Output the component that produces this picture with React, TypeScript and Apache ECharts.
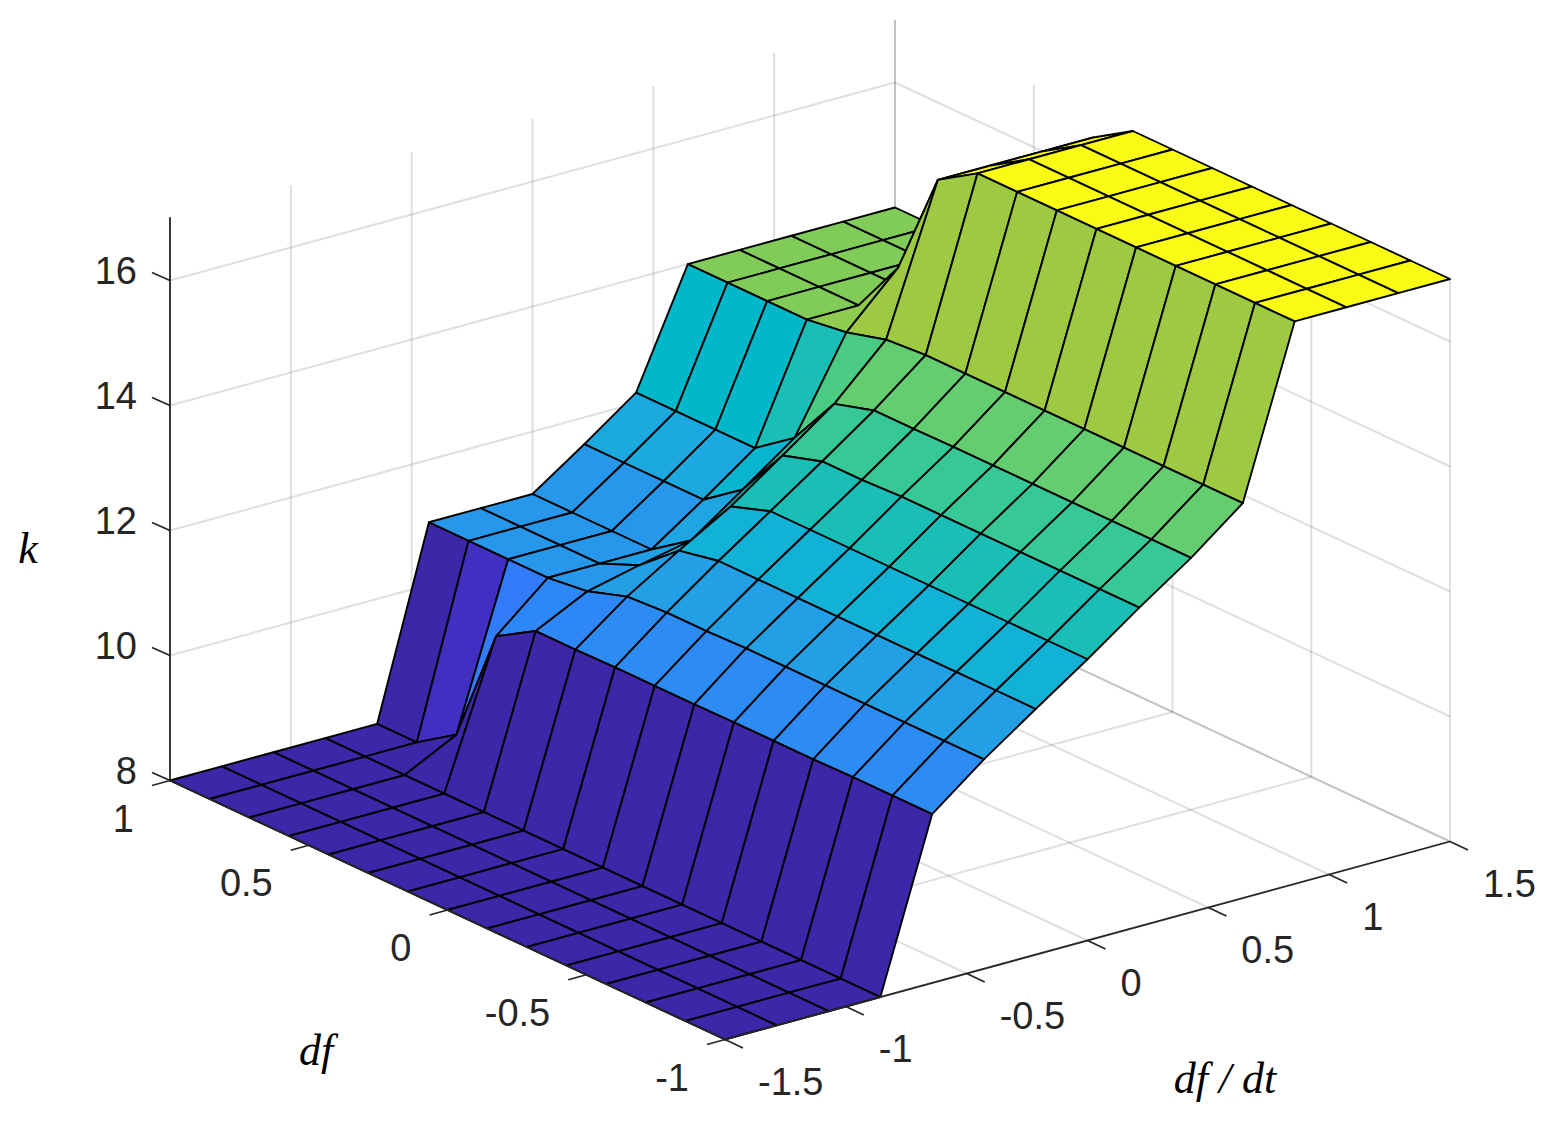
import React, { useEffect, useRef } from "react";
import * as echarts from "echarts";

// Mesh coordinates
const dfdtValues = [-1.5, -1.2857, -1.0714, -0.8571, -0.6429, -0.4286, -0.2143, 0, 0.2143, 0.4286, 0.6429, 0.8571, 1.0714, 1.2857, 1.5];
const dfValues = [1, 0.8571, 0.7143, 0.5714, 0.4286, 0.2857, 0.1429, 0, -0.1429, -0.2857, -0.4286, -0.5714, -0.7143, -0.8571, -1];

// k per df/dt column, each listed from df = 1 to df = -1
const k00 = [8, 8, 8, 8, 8, 8, 8, 8, 8, 8, 8, 8, 8, 8, 8];
const k01 = [8, 8, 8, 8, 8, 8, 8, 8, 8, 8, 8, 8, 8, 8, 8];
const k02 = [8, 8, 8, 8, 8, 8, 8, 8, 8, 8, 8, 8, 8, 8, 8];
const k03 = [8, 8, 8, 8, 8, 8, 8, 8, 8, 8, 8, 8, 8, 8, 8];
const k04 = [8, 8, 8.42, 10.29, 10.67, 10.67, 10.68, 10.68, 10.68, 10.69, 10.69, 10.69, 10.7, 10.7, 10.7];
const k05 = [11, 11, 11, 11, 11.08, 11.29, 11.33, 11.33, 11.35, 11.35, 11.35, 11.35, 11.35, 11.35, 11.35];
const k06 = [11, 11, 11, 11, 11.27, 11.8, 11.93, 11.93, 11.93, 11.93, 11.93, 11.93, 11.93, 11.93, 11.93];
const k07 = [11, 11, 11, 11, 11.44, 12.28, 12.5, 12.5, 12.5, 12.5, 12.5, 12.5, 12.5, 12.5, 12.5];
const k08 = [11.57, 11.57, 11.57, 11.57, 12.03, 12.87, 13.07, 13.07, 13.1, 13.1, 13.1, 13.1, 13.1, 13.1, 13.1];
const k09 = [12.17, 12.17, 12.17, 12.17, 12.63, 13.47, 13.66, 13.66, 13.67, 13.67, 13.67, 13.67, 13.67, 13.67, 13.67];
const k10 = [14, 14, 14, 14, 14.09, 14.27, 14.32, 14.32, 14.32, 14.32, 14.32, 14.32, 14.32, 14.32, 14.32];
const k11 = [14, 14, 14, 14, 14.9, 16.6, 17, 17, 17, 17, 17, 17, 17, 17, 17];
const k12 = [14, 14, 14, 14, 14.9, 16.6, 17, 17, 17, 17, 17, 17, 17, 17, 17];
const k13 = [14, 14, 14, 14, 14.9, 16.6, 17, 17, 17, 17, 17, 17, 17, 17, 17];
const k14 = [14, 14, 14, 14, 14.9, 16.6, 17, 17, 17, 17, 17, 17, 17, 17, 17];
const kValues = [k00, k01, k02, k03, k04, k05, k06, k07, k08, k09, k10, k11, k12, k13, k14];

// Tick labels
const kTicks = [8, 10, 12, 14, 16];
const dfTicks = [1, 0.5, 0, -0.5, -1];
const dfdtTicks = [-1.5, -1, -0.5, 0, 0.5, 1, 1.5];
const kMin = 8;
const kMax = 17;

// parula(64)
const parula = [
  [0.2422, 0.1504, 0.6603], [0.2504, 0.165, 0.7076], [0.2578, 0.1818, 0.7511], [0.2647, 0.1978, 0.7952],
  [0.2706, 0.2147, 0.8364], [0.2751, 0.2342, 0.871], [0.2783, 0.2559, 0.8991], [0.2803, 0.2782, 0.9221],
  [0.2813, 0.3006, 0.9414], [0.281, 0.3228, 0.9579], [0.2795, 0.3447, 0.9717], [0.276, 0.3667, 0.9829],
  [0.2699, 0.3892, 0.9906], [0.2602, 0.4123, 0.9952], [0.244, 0.4358, 0.9988], [0.2206, 0.4603, 0.9973],
  [0.1963, 0.4847, 0.9892], [0.1834, 0.5074, 0.9798], [0.1786, 0.5289, 0.9682], [0.1764, 0.5499, 0.952],
  [0.1687, 0.5703, 0.9359], [0.154, 0.5902, 0.9218], [0.146, 0.6091, 0.9079], [0.138, 0.6276, 0.8973],
  [0.1248, 0.6459, 0.8883], [0.1113, 0.6635, 0.8763], [0.0952, 0.6798, 0.8598], [0.0689, 0.6948, 0.8394],
  [0.0297, 0.7082, 0.8163], [0.0036, 0.7203, 0.7917], [0.0067, 0.7312, 0.766], [0.0433, 0.7411, 0.7394],
  [0.0964, 0.75, 0.712], [0.1408, 0.7584, 0.6842], [0.1717, 0.767, 0.6554], [0.1938, 0.7758, 0.6251],
  [0.2161, 0.7843, 0.5923], [0.247, 0.7918, 0.5567], [0.2906, 0.7973, 0.5188], [0.3406, 0.8008, 0.4789],
  [0.3909, 0.8029, 0.4354], [0.4456, 0.8024, 0.3909], [0.5044, 0.7993, 0.348], [0.5616, 0.7942, 0.3045],
  [0.6174, 0.7876, 0.2612], [0.672, 0.7793, 0.2227], [0.7242, 0.7698, 0.191], [0.7738, 0.7598, 0.1646],
  [0.8203, 0.7498, 0.1535], [0.8634, 0.7406, 0.1596], [0.9035, 0.733, 0.1774], [0.9393, 0.7288, 0.21],
  [0.9728, 0.7298, 0.2394], [0.9956, 0.7434, 0.2371], [0.997, 0.7659, 0.2199], [0.9952, 0.7861, 0.1991],
  [0.9892, 0.8086, 0.1751], [0.9786, 0.8288, 0.1558], [0.9697, 0.8505, 0.1492], [0.9638, 0.8716, 0.1414],
  [0.9598, 0.8918, 0.1308], [0.9614, 0.9137, 0.1186], [0.9628, 0.9373, 0.1063], [0.9769, 0.9839, 0.0805],
];

const faceColor = (k: number) => {
  const idx = Math.min(63, Math.max(0, Math.floor(((k - kMin) / (kMax - kMin)) * 64)));
  const c = parula[idx];
  return `rgb(${Math.round(c[0] * 255)},${Math.round(c[1] * 255)},${Math.round(c[2] * 255)})`;
};

// View: where the floor corners of the box land, and pixels per unit of k
const LEFT = 170, TOP = 218, PX_PER_K = 62.5;
const FLOOR = { a: [170, 781], b: [895, 583], c: [1450, 842], d: [725, 1040] };
const GREY = "rgba(38,38,38,0.15)";
const INK = "#262626";
const TICK_FONT = '38px "Liberation Sans", Arial, sans-serif';
const NAME_FONT = 'italic 44px "Liberation Serif", "Times New Roman", serif';

const floorPoint = (dfdt: number, df: number) => {
  const u = (dfdt + 1.5) / 3;
  const v = (1 - df) / 2;
  const lerp = (n: number) =>
    (1 - u) * (1 - v) * FLOOR.a[n] + u * (1 - v) * FLOOR.b[n] + u * v * FLOOR.c[n] + (1 - u) * v * FLOOR.d[n];
  return [lerp(0), lerp(1)];
};

// (df/dt, df, k) to pixels, going through the hidden x axis and the real k axis
const project = (api: any, dfdt: number, df: number, k: number) => {
  const g = floorPoint(dfdt, df);
  return api.coord([g[0] - LEFT, k - (g[1] - FLOOR.a[1]) / PX_PER_K]);
};

type Seg = [number, number, number, number, number, number];
const gridSegs: Seg[] = [];
dfdtTicks.forEach((t) => {
  gridSegs.push([t, 1, kMin, t, -1, kMin]);
  gridSegs.push([t, 1, kMin, t, 1, kMax]);
});
dfTicks.forEach((d) => {
  gridSegs.push([-1.5, d, kMin, 1.5, d, kMin]);
  gridSegs.push([1.5, d, kMin, 1.5, d, kMax]);
});
kTicks.forEach((k) => {
  gridSegs.push([-1.5, 1, k, 1.5, 1, k]);
  gridSegs.push([1.5, 1, k, 1.5, -1, k]);
});

const axisSegs: Seg[] = [
  [-1.5, 1, kMin, -1.5, -1, kMin],
  [-1.5, -1, kMin, 1.5, -1, kMin],
];

// Painted from the far corner to the near one
const cells: number[][] = [];
for (let i = dfdtValues.length - 2; i >= 0; i--) {
  for (let j = 0; j < dfValues.length - 1; j++) cells.push([i, j]);
}

const segItem = (api: any, p: any, stroke: string, lineWidth: number) => {
  const a = project(api, p[0], p[1], p[2]);
  const b = project(api, p[3], p[4], p[5]);
  return {
    type: "line",
    shape: { x1: a[0], y1: a[1], x2: b[0], y2: b[1] },
    style: { stroke, lineWidth, fill: null },
    silent: true,
  };
};

const tickItem = (api: any, dfdt: number, df: number, k: number, dx: number, dy: number) => {
  const a = project(api, dfdt, df, k);
  return {
    type: "line",
    shape: { x1: a[0], y1: a[1], x2: a[0] + dx, y2: a[1] + dy },
    style: { stroke: INK, lineWidth: 1.8, fill: null },
    silent: true,
  };
};

const labelItem = (api: any, dfdt: number, df: number, text: string, dx: number, dy: number, align: string) => {
  const a = project(api, dfdt, df, kMin);
  return {
    type: "text",
    x: a[0] + dx,
    y: a[1] + dy,
    style: { text, fill: INK, font: TICK_FONT, align, verticalAlign: "middle", textAlign: align, textVerticalAlign: "middle" },
    silent: true,
  };
};

export default function App() {
  const ref = useRef<HTMLDivElement>(null);
  useEffect(() => {
    const chart = echarts.init(ref.current!, undefined, { renderer: "svg" });
    chart.setOption({
      animation: false,
      backgroundColor: "#ffffff",
      grid: { left: LEFT, top: TOP, width: 1385, height: (kMax - kMin) * PX_PER_K, containLabel: false },
      xAxis: { type: "value", min: 0, max: 1385, show: false },
      yAxis: {
        type: "value",
        min: kMin,
        max: kMax,
        interval: 2,
        axisLine: { show: true, onZero: false, lineStyle: { color: INK, width: 1.8 } },
        axisTick: { show: false },
        splitLine: { show: false },
        axisLabel: {
          showMaxLabel: false,
          margin: 33,
          color: INK,
          fontSize: 38,
          fontFamily: '"Liberation Sans", Arial, sans-serif',
          verticalAlign: "bottom",
          lineHeight: 20,
        },
      },
      graphic: [
        { type: "text", x: 28, y: 548, style: { text: "k", font: NAME_FONT, fill: "#000", align: "center", verticalAlign: "middle" }, silent: true },
        { type: "text", x: 316, y: 1050, style: { text: "df", font: NAME_FONT, fill: "#000", align: "center", verticalAlign: "middle" }, silent: true },
        { type: "text", x: 1225, y: 1078, style: { text: "df / dt", font: NAME_FONT, fill: "#000", align: "center", verticalAlign: "middle" }, silent: true },
      ],
      series: [
        {
          type: "custom",
          name: "box grid",
          coordinateSystem: "cartesian2d",
          silent: true,
          data: gridSegs,
          renderItem: (params: any, api: any) => segItem(api, gridSegs[params.dataIndex], GREY, 2),
        },
        {
          type: "custom",
          name: "k surface",
          coordinateSystem: "cartesian2d",
          silent: true,
          data: cells,
          renderItem: (params: any, api: any) => {
            const [i, j] = cells[params.dataIndex];
            const corners = [
              [i, j],
              [i + 1, j],
              [i + 1, j + 1],
              [i, j + 1],
            ].map(([a, b]) => project(api, dfdtValues[a], dfValues[b], kValues[a][b]));
            return {
              type: "polygon",
              shape: { points: corners },
              style: { fill: faceColor(kValues[i][j + 1]), stroke: "#000", lineWidth: 1.9, lineJoin: "round" },
              silent: true,
            };
          },
        },
        {
          type: "custom",
          name: "axis lines",
          coordinateSystem: "cartesian2d",
          silent: true,
          data: axisSegs,
          renderItem: (params: any, api: any) => segItem(api, axisSegs[params.dataIndex], INK, 1.8),
        },
        {
          type: "custom",
          name: "k ticks",
          coordinateSystem: "cartesian2d",
          silent: true,
          data: kTicks,
          renderItem: (params: any, api: any) => tickItem(api, -1.5, 1, kTicks[params.dataIndex], -18, -8),
        },
        {
          type: "custom",
          name: "df ticks",
          coordinateSystem: "cartesian2d",
          silent: true,
          data: dfTicks,
          renderItem: (params: any, api: any) => tickItem(api, -1.5, dfTicks[params.dataIndex], kMin, -18, 5),
        },
        {
          type: "custom",
          name: "df/dt ticks",
          coordinateSystem: "cartesian2d",
          silent: true,
          data: dfdtTicks,
          renderItem: (params: any, api: any) => tickItem(api, dfdtTicks[params.dataIndex], -1, kMin, 18, 8.5),
        },
        {
          type: "custom",
          name: "df labels",
          coordinateSystem: "cartesian2d",
          silent: true,
          data: dfTicks,
          renderItem: (params: any, api: any) => labelItem(api, -1.5, dfTicks[params.dataIndex], String(dfTicks[params.dataIndex]), -36, 38, "right"),
        },
        {
          type: "custom",
          name: "df/dt labels",
          coordinateSystem: "cartesian2d",
          silent: true,
          data: dfdtTicks,
          renderItem: (params: any, api: any) => labelItem(api, dfdtTicks[params.dataIndex], -1, String(dfdtTicks[params.dataIndex]), 33, 42, "left"),
        },
      ],
    });
    return () => chart.dispose();
  }, []);
  return <div ref={ref} style={{ position: "absolute", left: 0, top: 0, width: 1555, height: 1124 }} />;
}
